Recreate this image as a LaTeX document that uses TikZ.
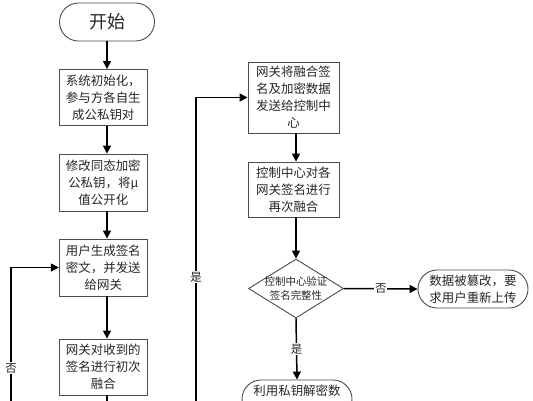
\documentclass[tikz,border=0pt]{standalone}
\usepackage{fontspec}
\newfontfamily\cjk{Noto Sans CJK SC}
\usetikzlibrary{arrows.meta,shapes.geometric}
\begin{document}
\begin{tikzpicture}[x=1bp,y=-1bp,
  every node/.style={text=black!85},
  box/.style={draw=black!70, line width=0.9bp, inner sep=0pt, align=center,
    minimum width=88bp, font=\cjk\fontsize{12.5}{17}\selectfont},
  term/.style={draw=black!70, line width=0.9bp, inner sep=0pt, align=center,
    rounded corners=19bp, minimum height=38bp, font=\cjk\fontsize{12.5}{17}\selectfont},
  dia/.style={draw=black!70, line width=0.9bp, diamond, inner sep=0pt,
    minimum width=95bp, minimum height=59bp},
  conn/.style={line width=1.5bp, -{Triangle[length=8bp,width=8bp]}},
  plain/.style={line width=1.5bp},
  lbl/.style={fill=white, inner sep=1bp, font=\cjk\fontsize{11.5}{12}\selectfont}]
\useasboundingbox (0,0) rectangle (533,400);
\clip (0,0) rectangle (533,400);
\fill[white] (0,0) rectangle (533,400);

\node[term, minimum width=95bp, font=\cjk\fontsize{18}{20}\selectfont] (start) at (107,22) {开始};
\node[box, minimum height=56bp] (b1) at (103.3,97.5) {系统初始化，\\参与方各自生\\成公私钥对};
\node[box, minimum height=57bp] (b2) at (103.3,182.5) {修改同态加密\\公私钥，将μ\\值公开化};
\node[box, minimum height=57bp] (b3) at (103.3,267.5) {用户生成签名\\密文，并发送\\给网关};
\node[box, minimum height=56bp] (b4) at (103.3,367) {网关对收到的\\签名进行初次\\融合};
\node[box, minimum width=91bp, minimum height=71bp] (b5) at (293.5,97.5) {网关将融合签\\名及加密数据\\发送给控制中\\心};
\node[box, minimum width=91bp, minimum height=55bp] (b6) at (293.5,189.5) {控制中心对各\\网关签名进行\\再次融合};
\node[dia, label={[font=\cjk\fontsize{10.5}{14}\selectfont, align=center, text=black!85]center:控制中心验证\\签名完整性}] (d) at (296,288.5) {};
\node[term, minimum width=110bp] (t2) at (473,289) {数据被篡改，要\\求用户重新上传};
\node[term, minimum width=110bp] (t3) at (297,399) {利用私钥解密数\\\mbox{}};

\coordinate (bot) at (107,410);
\coordinate (lb) at (11,410);
\coordinate (rb) at (196,410);

\draw[conn] (start.south) -- (start.south |- b1.north);
\draw[conn] (b1.south -| start) -- (b2.north -| start);
\draw[conn] (b2.south -| start) -- (b3.north -| start);
\draw[conn] (b3.south -| start) -- (b4.north -| start);
\draw[plain] (b4.south -| start) -- (bot);
\draw[conn] (lb) |- (b3.west);
\node[lbl] (no1) at (11,368) {否};
\draw[conn] (rb) |- (b5.west);
\node[lbl] (yes1) at (196,277) {是};
\draw[conn] (b5.south -| d) -- (b6.north -| d);
\draw[conn] (b6.south -| d) -- (d.north);
\draw[conn] (d.east) -- node[lbl] (no2) {否} (t2.west);
\draw[conn] (d.south) -- node[lbl] (yes2) {是} (t3.north);
\end{tikzpicture}
\end{document}
